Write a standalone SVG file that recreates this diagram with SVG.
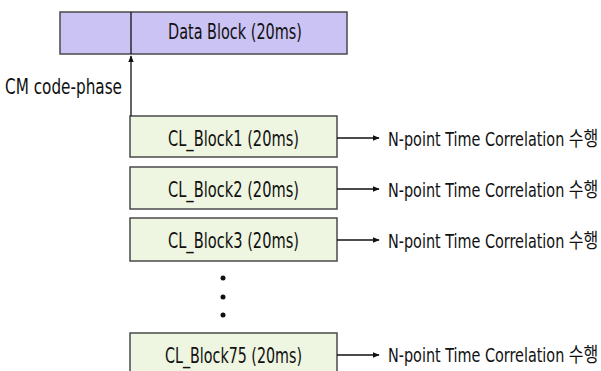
<svg xmlns="http://www.w3.org/2000/svg" width="601" height="371" viewBox="0 0 601 371">
<style>
text{font-family:"DejaVu Sans Condensed","Liberation Sans","Noto Sans CJK KR",sans-serif;font-size:21px;fill:#111}
.r{font-size:16px}
.data{fill:#cbc3f3;stroke:#4a4a4a;stroke-width:1.5}
.cl{fill:#eef5e0;stroke:#4a4a4a;stroke-width:1.5}
.ln{stroke:#111;stroke-width:1.3;fill:none}
</style>
<defs>
<marker id="ah" viewBox="0 0 10 10" refX="9" refY="5" markerWidth="7" markerHeight="7" orient="auto" markerUnits="userSpaceOnUse">
<path d="M0,1 L10,5 L0,9 Z" fill="#111"/>
</marker>
</defs>
<g id="data-block">
<rect class="data" x="60" y="12" width="287" height="42"/>
<line x1="131" y1="12" x2="131" y2="54" stroke="#111" stroke-width="1.3"/>
<text x="168" y="39" textLength="134" lengthAdjust="spacingAndGlyphs">Data Block (20ms)</text>
</g>
<g id="cm-label">
<text x="5" y="94" textLength="117" lengthAdjust="spacingAndGlyphs">CM code-phase</text>
</g>
<g id="cl1">
<rect class="cl" x="130" y="116" width="207" height="41"/>
<text x="168" y="146" textLength="131" lengthAdjust="spacingAndGlyphs">CL_Block1 (20ms)</text>
</g>
<g id="cl2">
<rect class="cl" x="130" y="167" width="207" height="42"/>
<text x="168" y="197" textLength="131" lengthAdjust="spacingAndGlyphs">CL_Block2 (20ms)</text>
</g>
<g id="cl3">
<rect class="cl" x="130" y="218" width="207" height="43"/>
<text x="168" y="248" textLength="131" lengthAdjust="spacingAndGlyphs">CL_Block3 (20ms)</text>
</g>
<g id="dots">
<circle cx="223" cy="278" r="2.5" fill="#111"/>
<circle cx="223" cy="297" r="2.5" fill="#111"/>
<circle cx="223" cy="315" r="2.5" fill="#111"/>
</g>
<g id="cl75">
<rect class="cl" x="130" y="333" width="207" height="45"/>
<text x="165" y="363" textLength="137" lengthAdjust="spacingAndGlyphs">CL_Block75 (20ms)</text>
</g>
<g id="results">
<text class="r" transform="translate(388,146) scale(1,1.25)">N-point Time Correlation 수행</text>
<text class="r" transform="translate(388,197) scale(1,1.25)">N-point Time Correlation 수행</text>
<text class="r" transform="translate(388,248) scale(1,1.25)">N-point Time Correlation 수행</text>
<text class="r" transform="translate(388,362) scale(1,1.25)">N-point Time Correlation 수행</text>
</g>
<g id="connectors">
<line class="ln" x1="131" y1="116" x2="131" y2="56" marker-end="url(#ah)"/>
<line class="ln" x1="337" y1="138" x2="379" y2="138" marker-end="url(#ah)"/>
<line class="ln" x1="337" y1="189" x2="379" y2="189" marker-end="url(#ah)"/>
<line class="ln" x1="337" y1="240" x2="379" y2="240" marker-end="url(#ah)"/>
<line class="ln" x1="337" y1="355" x2="379" y2="355" marker-end="url(#ah)"/>
</g>
</svg>
